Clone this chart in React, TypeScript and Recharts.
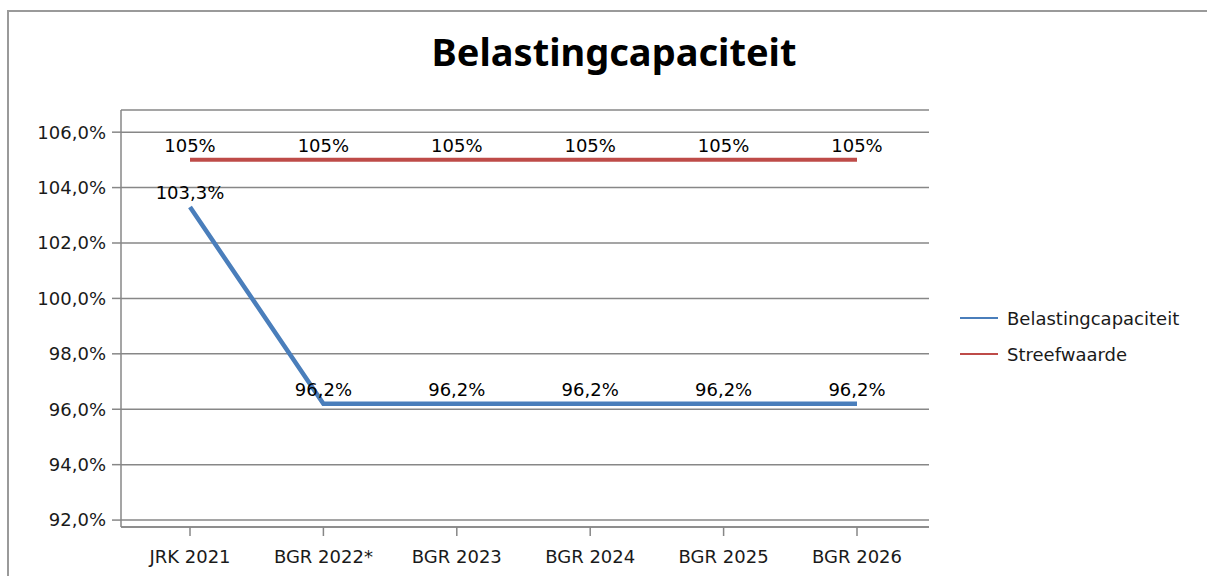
import { LineChart, Line, XAxis, YAxis, CartesianGrid, LabelList } from 'recharts';

const categories = ['JRK 2021', 'BGR 2022*', 'BGR 2023', 'BGR 2024', 'BGR 2025', 'BGR 2026'];
const belastingcapaciteit = [103.3, 96.2, 96.2, 96.2, 96.2, 96.2];
const streefwaarde = [105, 105, 105, 105, 105, 105];
const yTicks = [92, 94, 96, 98, 100, 102, 104, 106];

const BLUE = '#4a7ebb';
const RED = '#be4b48';
const GRID = '#878787';
const FONT = '"DejaVu Sans", Verdana, sans-serif';

const data = categories.map((name, i) => ({
  name,
  belasting: belastingcapaciteit[i],
  streef: streefwaarde[i],
}));

const fmtAxis = (v: number) => `${v.toFixed(1).replace('.', ',')}%`;
const fmtBlue = (v: any) => `${Number(v).toFixed(1).replace('.', ',')}%`;
const fmtRed = (v: any) => `${v}%`;

export default function App() {
  return (
    <div style={{ position: 'absolute', left: 0, top: 0, width: 1207, height: 576, background: '#fff', overflow: 'hidden' }}>
      {/* chart frame */}
      <div
        style={{
          position: 'absolute',
          left: 7,
          top: 10,
          width: 1220,
          height: 600,
          borderLeft: '2px solid #9a9a9a',
          borderTop: '2px solid #9a9a9a',
        }}
      />
      <div
        style={{
          position: 'absolute',
          left: 0,
          width: 1228,
          top: 25,
          textAlign: 'center',
          fontFamily: '"Noto Sans", sans-serif',
          fontWeight: 700,
          fontSize: 38,
          color: '#000',
        }}
      >
        Belastingcapaciteit
      </div>

      <div style={{ position: 'absolute', left: 0, top: 0 }}>
        <LineChart width={1207} height={576} data={data} margin={{ top: 110, right: 278, bottom: 9, left: 21 }}>
          <CartesianGrid vertical={false} stroke={GRID} strokeWidth={1.5} />
          <XAxis
            dataKey="name"
            height={40}
            padding={{ left: 69, right: 72 }}
            stroke={GRID}
            strokeWidth={1.5}
            tickSize={9}
            tickMargin={14}
            tick={{ fill: '#1a1a1a', fontSize: 18, fontFamily: FONT }}
            interval={0}
          />
          <YAxis
            width={100}
            domain={[91.75, 106.8]}
            ticks={yTicks}
            tickFormatter={fmtAxis}
            stroke={GRID}
            strokeWidth={1.5}
            tickSize={9}
            tickMargin={6}
            tick={{ fill: '#1a1a1a', fontSize: 18, fontFamily: FONT }}
            allowDataOverflow
          />
          <Line
            type="linear"
            dataKey="streef"
            stroke={RED}
            strokeWidth={4}
            dot={false}
            isAnimationActive={false}
          >
            <LabelList dataKey="streef" position="top" offset={8} formatter={fmtRed} fill="#000" fontSize={18} fontFamily={FONT} />
          </Line>
          <Line
            type="linear"
            dataKey="belasting"
            stroke={BLUE}
            strokeWidth={4.5}
            dot={false}
            isAnimationActive={false}
          >
            <LabelList dataKey="belasting" position="top" offset={8} formatter={fmtBlue} fill="#000" fontSize={18} fontFamily={FONT} />
          </Line>
        </LineChart>
      </div>

      {/* legend */}
      {[
        { label: 'Belastingcapaciteit', color: BLUE, y: 318 },
        { label: 'Streefwaarde', color: RED, y: 354 },
      ].map((it) => (
        <div key={it.label} style={{ position: 'absolute', left: 960, top: it.y - 12, height: 24, display: 'flex', alignItems: 'center' }}>
          <div style={{ width: 38, height: 2, background: it.color, marginRight: 9 }} />
          <span style={{ fontFamily: FONT, fontSize: 18, color: '#1a1a1a' }}>{it.label}</span>
        </div>
      ))}
    </div>
  );
}
